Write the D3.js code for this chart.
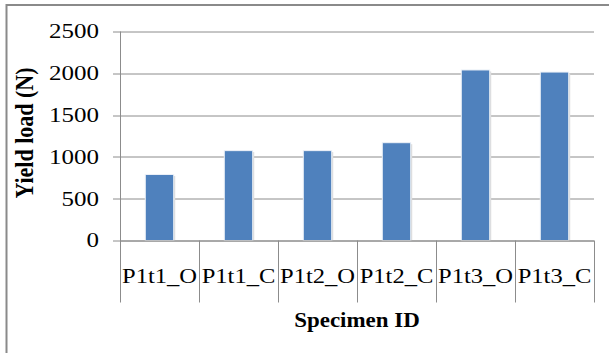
<!DOCTYPE html>
<html>
<head>
<meta charset="utf-8">
<script src="https://cdn.jsdelivr.net/npm/d3@7"></script>
<style>
  body { margin: 0; background: #fff; }
  svg { display: block; font-family: "Liberation Serif", "Times New Roman", serif; }
</style>
</head>
<body>
<svg id="chart" width="609" height="353"></svg>
<script>
// Data
const specimens = ['P1t1_O', 'P1t1_C', 'P1t2_O', 'P1t2_C', 'P1t3_O', 'P1t3_C'];
const yieldLoad = [790, 1075, 1075, 1170, 2040, 2015];
const yTicks = [0, 500, 1000, 1500, 2000, 2500];

const svg = d3.select('#chart');
const margin = { top: 31.5, right: 15, bottom: 112.5, left: 120 };
const width = 609 - margin.left - margin.right;
const height = 353 - margin.top - margin.bottom;
const stretch = 1.17;   // text in the reference is drawn slightly wide
const gridColor = '#8c8c8c';

// outer chart border (cropped at right and bottom)
svg.append('rect')
    .attr('x', 6.5).attr('y', 5)
    .attr('width', 620).attr('height', 360)
    .attr('fill', 'none')
    .attr('stroke', '#8a8a8a')
    .attr('stroke-width', 2);

const g = svg.append('g')
    .attr('transform', `translate(${margin.left},${margin.top})`);

// Scales
const x = d3.scaleBand().domain(specimens).range([0, width]).padding(0);
const y = d3.scaleLinear().domain([0, 2500]).range([height, 0]);

// Gridlines (extend left as tick marks)
g.append('g').selectAll('line')
    .data(yTicks)
    .join('line')
    .attr('x1', -7).attr('x2', width)
    .attr('y1', d => Math.round(y(d)) + 0.5)
    .attr('y2', d => Math.round(y(d)) + 0.5)
    .attr('stroke', gridColor);

// Y axis line
g.append('line')
    .attr('x1', 0.5).attr('x2', 0.5)
    .attr('y1', y(2500)).attr('y2', height + 62)
    .attr('stroke', gridColor);

// Category divider ticks below the axis
const bounds = specimens.map(d => x(d)).concat([width]);
g.append('g').selectAll('line')
    .data(bounds.slice(1))
    .join('line')
    .attr('x1', d => Math.round(d) + 0.5).attr('x2', d => Math.round(d) + 0.5)
    .attr('y1', height).attr('y2', height + 62)
    .attr('stroke', gridColor);

// Y tick labels
g.append('g').selectAll('text')
    .data(yTicks)
    .join('text')
    .attr('transform', d => `translate(-21,${y(d)}) scale(1.25,1)`)
    .attr('dy', '0.34em')
    .attr('text-anchor', 'end')
    .attr('font-size', 20)
    .attr('fill', '#000')
    .text(d => d);

// Bars
const barW = x.bandwidth() * 0.36;
const bars = g.append('g');
bars.selectAll('rect.shadow')
    .data(yieldLoad)
    .join('rect')
    .attr('class', 'shadow')
    .attr('x', (d, i) => x(specimens[i]) + (x.bandwidth() - barW) / 2 + 1.5)
    .attr('y', d => y(d) + 1.5)
    .attr('width', barW)
    .attr('height', d => height - y(d) - 1.5)
    .attr('fill', '#d9d9d9');
bars.selectAll('rect.bar')
    .data(yieldLoad)
    .join('rect')
    .attr('class', 'bar')
    .attr('x', (d, i) => x(specimens[i]) + (x.bandwidth() - barW) / 2)
    .attr('y', d => y(d))
    .attr('width', barW)
    .attr('height', d => height - y(d))
    .attr('fill', '#4f81bd')
    .attr('stroke', '#eef2f8')
    .attr('stroke-width', 1);

// X axis line
g.append('line')
    .attr('x1', 0).attr('x2', width)
    .attr('y1', Math.round(height) + 0.5).attr('y2', Math.round(height) + 0.5)
    .attr('stroke', gridColor);

// Category labels
g.append('g').selectAll('text')
    .data(specimens)
    .join('text')
    .attr('transform', d => `translate(${x(d) + x.bandwidth() / 2},${height + 42}) scale(${stretch},1)`)
    .attr('text-anchor', 'middle')
    .attr('font-size', 21)
    .attr('fill', '#000')
    .text(d => d);

// Axis titles
svg.append('text')
    .attr('transform', `translate(${margin.left + width / 2},326.5) scale(1.12,1)`)
    .attr('text-anchor', 'middle')
    .attr('font-size', 20.5)
    .attr('font-weight', 'bold')
    .attr('fill', '#000')
    .text('Specimen ID');

svg.append('text')
    .attr('transform', `translate(33,133) scale(${stretch},1) rotate(-90)`)
    .attr('text-anchor', 'middle')
    .attr('font-size', 22)
    .attr('font-weight', 'bold')
    .attr('fill', '#000')
    .text('Yield load (N)');
</script>
</body>
</html>
